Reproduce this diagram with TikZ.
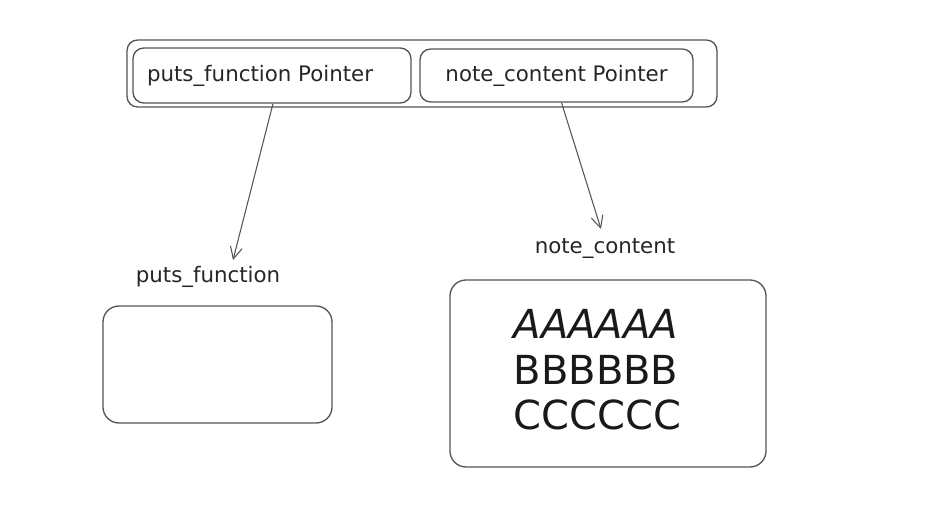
\documentclass[tikz,border=0pt]{standalone}
\usepackage{fontspec}
\setmainfont{DejaVu Sans}
\usetikzlibrary{positioning}
\usetikzlibrary{arrows, arrows.meta}

\def\px{0.75pt}
\definecolor{sketch}{HTML}{555555}
\tikzset{
  ptrbox/.style={draw=sketch, line width=1pt, rounded corners=8pt, inner sep=0pt},
  memlabel/.style={font=\fontsize{16}{18}\selectfont, text=black!85},
  pointsto/.style={draw=sketch, line width=0.8pt, -{Straight Barb[length=9pt,width=9pt]}}
}

\begin{document}
\begin{tikzpicture}[x=0.75pt, y=-0.75pt]
  \useasboundingbox (0,0) rectangle (947,517);

  % struct with the two pointers
  \node[ptrbox, minimum width=590*\px, minimum height=67*\px] (note) at (422,73.5) {};
  \node[ptrbox, minimum width=278*\px, minimum height=55*\px, memlabel] (ptrfun) at (272,75.5) {puts\_function Pointer\hspace*{18pt}};
  \node[ptrbox, minimum width=273*\px, minimum height=53*\px, memlabel] (ptrcontent) at (556.5,75.5) {note\_content Pointer};

  % targets
  \node[memlabel] (funlabel) at (208,277) {puts\_function};
  \node[ptrbox, rounded corners=12pt, minimum width=229*\px, minimum height=117*\px] (funbox) at (217.5,364.5) {};

  \node[memlabel] (contentlabel) at (605,249) {note\_content};
  \node[ptrbox, rounded corners=12pt, minimum width=316*\px, minimum height=187*\px] (contentbox) at (608,373.5) {};
  \node[anchor=west, align=left, font=\fontsize{30}{34}\selectfont, text=black!90] (contenttext) at (509,370)
    {\textit{AAAAAA}\\BBBBBB\\CCCCCC};

  % pointers
  \coordinate (funtip) at (233,260);
  \coordinate (contenttip) at (601,229);
  \draw[pointsto] ([xshift=1*\px]ptrfun.south) -- (funtip);
  \draw[pointsto] ([xshift=5*\px]ptrcontent.south) -- (contenttip);
\end{tikzpicture}
\end{document}
